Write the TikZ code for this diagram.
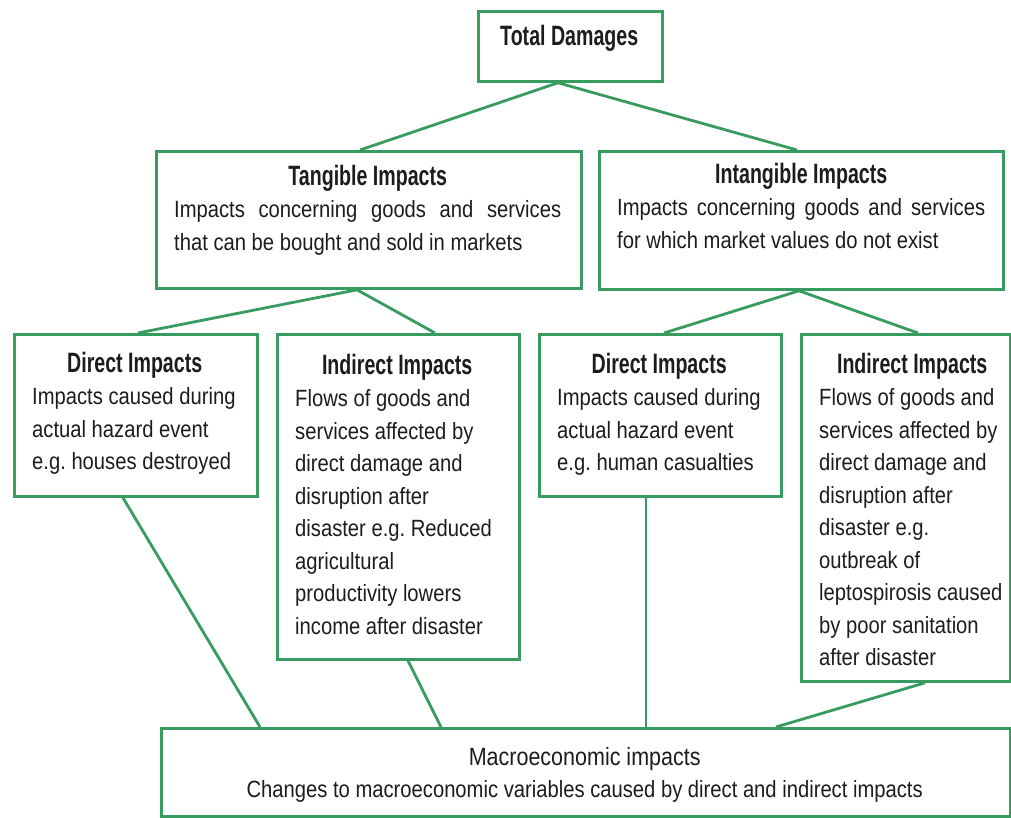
\documentclass[tikz,border=0pt]{standalone}
\usepackage{fontspec}
\setmainfont{Liberation Sans}[FakeStretch=0.86]
\newfontfamily\headfont{Liberation Sans}[FakeStretch=0.70]
\usepackage{tikz}
\usetikzlibrary{positioning,calc}
\hyphenpenalty=10000
\hfuzz=20pt
\frenchspacing
\definecolor{boxgreen}{RGB}{56,155,96}
\definecolor{inkgray}{RGB}{28,28,28}
\tikzset{
  frame/.style   = {rectangle,draw=boxgreen,line width=2.8pt,inner sep=0pt},
  boxtext/.style = {inner sep=0pt,align=left,text=inkgray,
                    font=\fontsize{23.5}{32.5}\selectfont},
  link/.style    = {draw=boxgreen,line width=2.8pt}
}
\newcommand{\Heading}[1]{{\centering\headfont\bfseries\fontsize{28}{32.5}\selectfont #1\par}}
\newcommand{\Lines}[1]{\begin{tabular}[t]{@{}l@{}}#1\end{tabular}}
\newcommand{\DrawBox}[7][]{%
  % draws the green frame
  \node[frame,minimum width=#4,minimum height=#5,anchor=north west] (#2) at #3 {};
  % heading and description inside the frame (font spaces, not the rigid ragged ones)
  \pgfmathsetmacro{\txtw}{#4-38}
  \node[boxtext,text width=\txtw pt,anchor=north west,#1] (#2-txt)
    at ($(#2.north west)+(19,20)$) {\spaceskip=0pt\xspaceskip=0pt\Heading{#6}#7};
}

\begin{document}
\begin{tikzpicture}[x=1pt,y=-1pt]
    \useasboundingbox (0,0) rectangle (1011,818);

    \DrawBox[yshift=5pt]{td}{(477,10)}{184}{70}
    {Total Damages}
    {}

    % tangible and intangible
    \DrawBox[yshift=5pt]{tang}{(155,150)}{425}{137}
    {Tangible Impacts}
    {\makebox[\hsize][s]{Impacts concerning goods and services}\\
     that can be bought and sold in markets}

    \DrawBox[yshift=7pt,text width=368pt]{intang}{(598,150)}{404}{138}
    {Intangible Impacts}
    {\makebox[\hsize][s]{Impacts concerning goods and services}\\
     for which market values do not exist}

    \draw[link] ($(td.south west)+(81,0)$) -- ($(tang.north west)+(205,0)$);
    \draw[link] ($(td.south west)+(81,0)$) -- ($(intang.north west)+(199,0)$);

    % direct and indirect, tangible side
    \DrawBox[yshift=1pt]{dir1}{(13,333)}{243}{162}
    {Direct Impacts}
    {\Lines{Impacts caused during\\actual hazard event\\e.g. houses destroyed}}

    \DrawBox[yshift=-1pt]{ind1}{(276,333)}{242}{325}
    {Indirect Impacts}
    {\Lines{Flows of goods and\\services affected by\\direct damage and\\
     disruption after\\disaster e.g. Reduced\\agricultural\\
     productivity lowers\\income after disaster}}

    \draw[link] ($(tang.south west)+(202,0)$) -- ($(dir1.north west)+(125,0)$);
    \draw[link] ($(tang.south west)+(202,0)$) -- ($(ind1.north west)+(159,0)$);

    % direct and indirect, intangible side
    \DrawBox{dir2}{(538,333)}{242}{162}
    {Direct Impacts}
    {\Lines{Impacts caused during\\actual hazard event\\e.g. human casualties}}

    \DrawBox[text width=186pt]{ind2}{(800,333)}{209}{347}
    {Indirect Impacts}
    {\Lines{Flows of goods and\\services affected by\\direct damage and\\
     disruption after\\disaster e.g.\\outbreak of\\
     leptospirosis caused\\by poor sanitation\\after disaster}}

    \draw[link] ($(intang.south west)+(201,0)$) -- ($(dir2.north west)+(126,0)$);
    \draw[link] ($(intang.south west)+(201,0)$) -- ($(ind2.north west)+(118,0)$);

    % macroeconomic level
    \DrawBox[align=center]{macro}{(160,727)}{849}{88}
    {\mdseries\rmfamily\fontsize{25}{32.5}\selectfont Macroeconomic impacts}
    {\Lines{Changes to macroeconomic variables caused by direct and indirect impacts}}

    \draw[link] ($(dir1.south west)+(110,0)$) -- ($(macro.north west)+(100,0)$);
    \draw[link] ($(ind1.south west)+(132,0)$) -- ($(macro.north west)+(281,0)$);
    \draw[link] ($(dir2.south west)+(108,0)$) -- ($(macro.north west)+(486,0)$);
    \draw[link] ($(ind2.south west)+(125,0)$) -- ($(macro.north west)+(616,0)$);
\end{tikzpicture}
\end{document}
